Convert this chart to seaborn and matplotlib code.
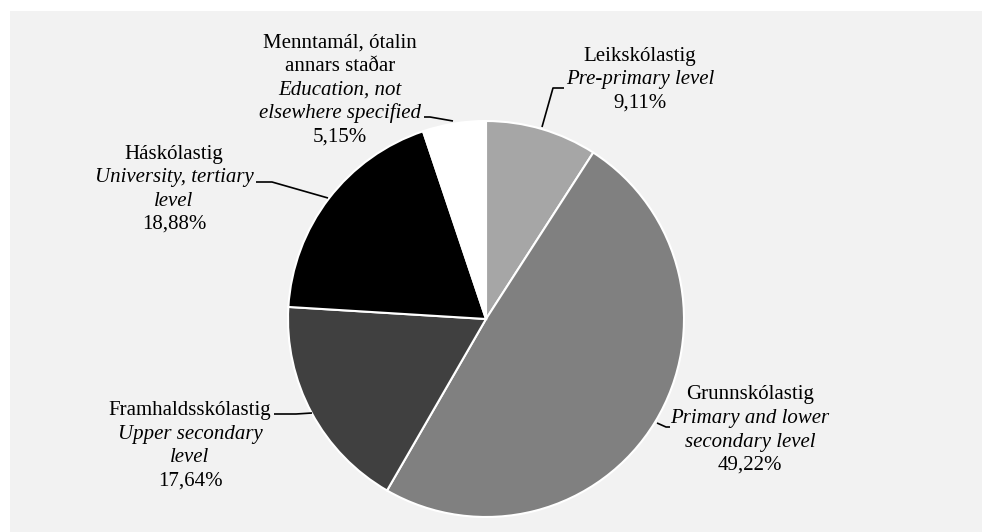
import matplotlib
matplotlib.use("Agg")
import matplotlib.pyplot as plt
import seaborn as sns
from matplotlib.patches import Rectangle

sns.set_theme(style="white")
plt.rcParams['font.family'] = ['Liberation Serif', 'DejaVu Serif']

# Data (clockwise from 12 o'clock)
names_is = ["Leikskólastig", "Grunnskólastig", "Framhaldsskólastig", "Háskólastig",
            "Menntamál, ótalin\nannars staðar"]
names_en = ["Pre-primary level", "Primary and lower\nsecondary level", "Upper secondary\nlevel",
            "University, tertiary\nlevel", "Education, not\nelsewhere specified"]
shares = [9.11, 49.22, 17.64, 18.88, 5.15]
colors = ["#a6a6a6", "#808080", "#404040", "#000000", "#ffffff"]

W, H = 982, 532
CX, CY, R = 486, 319, 198  # pixel geometry of pie

fig = plt.figure(figsize=(W / 100, H / 100), dpi=100)
fig.patch.set_facecolor("white")
ax = fig.add_axes([0, 0, 1, 1])
ax.set_facecolor("none")
ax.add_patch(Rectangle((10 / W, 0), 1 - 10 / W, (H - 11) / H, transform=fig.transFigure,
                       facecolor="#f2f2f2", edgecolor="none", zorder=-10))
ax.pie(shares, colors=colors, startangle=90, counterclock=False, radius=1,
       wedgeprops=dict(edgecolor="white", linewidth=1.5))
ax.set_xlim(-CX / R, (W - CX) / R)
ax.set_ylim(-(H - CY) / R, CY / R)
ax.set_aspect("equal")
ax.axis("off")


def d(px, py):
    return ((px - CX) / R, (CY - py) / R)


# label block centres (pixel) : x, y of first line
label_pos = [(640, 56), (750, 395), (190, 411), (174, 154), (340, 43)]
leaders = [
    [(542, 127), (553, 88), (564, 88)],
    [(657, 423), (666, 427), (670, 427)],
    [(312, 413), (296, 414), (274, 414)],
    [(328, 198), (272, 182), (256, 182)],
    [(453, 121), (430, 117), (424, 117)],
]
LS = 23.5
fs = 15
for i in range(len(shares)):
    x, y = label_pos[i]
    lines = [(t, "normal") for t in names_is[i].split("\n")]
    lines += [(t, "italic") for t in names_en[i].split("\n")]
    lines += [(f"{shares[i]:.2f}".replace(".", ",") + "%", "normal")]
    for k, (t, st) in enumerate(lines):
        ax.text(*d(x, y + k * LS), t, ha="center", va="center", fontsize=fs,
                style=st, color="black")
    pts = [d(*p) for p in leaders[i]]
    ax.plot([p[0] for p in pts], [p[1] for p in pts], color="black", lw=1.2,
            solid_capstyle="butt")

fig.savefig("out.png", dpi=100, facecolor=fig.get_facecolor())
